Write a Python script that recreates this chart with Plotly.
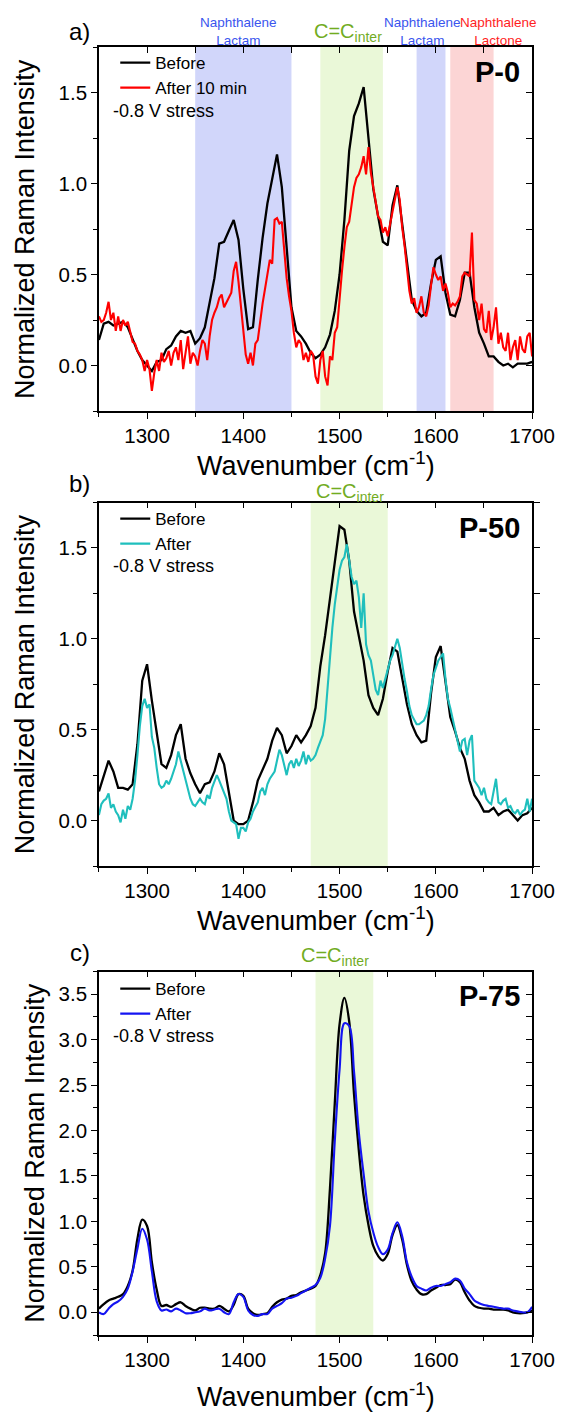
import numpy as np
import plotly.graph_objects as go

W, H = 582, 1414

# Raman shift grids (cm^-1)
wn_5 = np.arange(1250, 1700.001, 5.0)     # 91 points
wn_2p5 = np.arange(1250, 1700.001, 2.5)   # 181 points

# ---- P-0 ----
p0_before = [
    0.14, 0.23, 0.24, 0.22, 0.23, 0.24, 0.21, 0.14, 0.08, 0.03,
    0.00, -0.03, 0.02, 0.03, 0.09, 0.11, 0.16, 0.19, 0.18, 0.19,
    0.12, 0.15, 0.21, 0.34, 0.48, 0.67, 0.68, 0.74, 0.80, 0.69,
    0.42, 0.20, 0.21, 0.47, 0.70, 0.89, 1.03, 1.16, 0.98, 0.65,
    0.32, 0.19, 0.16, 0.12, 0.07, 0.04, 0.06, 0.10, 0.17, 0.30,
    0.50, 0.80, 1.18, 1.37, 1.44, 1.53, 1.24, 0.97, 0.82, 0.68,
    0.66, 0.88, 0.99, 0.78, 0.55, 0.36, 0.30, 0.27, 0.29, 0.45,
    0.58, 0.60, 0.40, 0.28, 0.27, 0.36, 0.51, 0.51, 0.32, 0.18,
    0.12, 0.05, 0.05, 0.02, 0.00, 0.01, -0.01, 0.01, 0.01, 0.01,
    0.02,
]
p0_after = [
    0.27, 0.24, 0.25, 0.29, 0.35, 0.25, 0.29, 0.19, 0.27, 0.19,
    0.25, 0.22, 0.24, 0.18, 0.13, 0.12, 0.08, 0.06, 0.03, -0.03,
    0.03, -0.02, -0.14, -0.04, 0.03, -0.03, 0.07, 0.02, 0.04, 0.08,
    0.00, 0.07, 0.10, 0.03, 0.14, -0.02, 0.08, 0.16, 0.01, 0.07,
    0.05, 0.00, 0.08, 0.14, 0.12, 0.03, 0.16, 0.25, 0.29, 0.32,
    0.37, 0.39, 0.32, 0.35, 0.37, 0.40, 0.52, 0.57, 0.46, 0.32,
    0.18, 0.06, 0.01, 0.07, 0.00, 0.12, 0.14, 0.25, 0.34, 0.42,
    0.50, 0.58, 0.56, 0.80, 0.81, 0.78, 0.79, 0.62, 0.48, 0.38,
    0.30, 0.18, 0.10, 0.14, 0.12, 0.03, 0.07, 0.02, 0.08, 0.06,
    -0.06, -0.10, 0.03, 0.08, -0.06, -0.11, 0.05, 0.03, 0.18, 0.21,
    0.38, 0.52, 0.65, 0.76, 0.79, 0.88, 0.98, 1.03, 1.05, 1.09,
    1.15, 1.05, 1.20, 1.06, 0.97, 0.90, 0.82, 0.80, 0.73, 0.76,
    0.71, 0.78, 0.86, 0.93, 0.98, 0.91, 0.76, 0.66, 0.52, 0.41,
    0.34, 0.37, 0.29, 0.32, 0.38, 0.29, 0.27, 0.33, 0.44, 0.54,
    0.50, 0.47, 0.49, 0.41, 0.45, 0.40, 0.32, 0.34, 0.33, 0.35,
    0.38, 0.49, 0.51, 0.50, 0.49, 0.73, 0.36, 0.34, 0.25, 0.34,
    0.20, 0.18, 0.30, 0.14, 0.21, 0.32, 0.12, 0.18, 0.10, 0.08,
    0.18, 0.03, 0.10, 0.14, 0.03, 0.16, 0.09, 0.07, 0.16, 0.18,
    0.05,
]

# ---- P-50 ----
p50_before = [
    0.16, 0.25, 0.33, 0.27, 0.18, 0.18, 0.17, 0.20, 0.42, 0.77,
    0.86, 0.66, 0.47, 0.31, 0.29, 0.36, 0.47, 0.53, 0.34, 0.26,
    0.20, 0.15, 0.20, 0.21, 0.27, 0.37, 0.31, 0.15, 0.00, -0.02,
    -0.02, 0.00, 0.10, 0.22, 0.28, 0.34, 0.44, 0.51, 0.47, 0.37,
    0.41, 0.47, 0.43, 0.47, 0.52, 0.62, 0.85, 1.02, 1.22, 1.43,
    1.62, 1.60, 1.43, 1.15, 1.01, 0.88, 0.69, 0.62, 0.58, 0.67,
    0.82, 0.95, 0.93, 0.79, 0.64, 0.53, 0.47, 0.43, 0.44, 0.70,
    0.90, 0.96, 0.77, 0.57, 0.49, 0.40, 0.34, 0.22, 0.14, 0.10,
    0.05, 0.05, 0.07, 0.03, 0.05, 0.06, 0.03, 0.00, 0.03, 0.04,
    0.07,
]
p50_after = [
    0.03, 0.09, 0.11, 0.12, 0.15, 0.07, 0.09, 0.05, 0.03, -0.01,
    0.06, 0.01, 0.08, 0.06, 0.12, 0.22, 0.36, 0.52, 0.63, 0.67,
    0.62, 0.64, 0.46, 0.40, 0.29, 0.20, 0.18, 0.19, 0.22, 0.20,
    0.23, 0.27, 0.31, 0.38, 0.33, 0.27, 0.23, 0.18, 0.12, 0.09,
    0.08, 0.10, 0.12, 0.10, 0.09, 0.14, 0.12, 0.18, 0.22, 0.25,
    0.22, 0.19, 0.15, 0.12, 0.05, 0.00, -0.01, -0.02, -0.10, -0.04,
    -0.04, -0.06, -0.01, 0.01, 0.05, 0.08, 0.10, 0.16, 0.18, 0.14,
    0.20, 0.23, 0.25, 0.27, 0.33, 0.39, 0.36, 0.31, 0.25, 0.31,
    0.33, 0.29, 0.34, 0.30, 0.33, 0.38, 0.31, 0.36, 0.33, 0.34,
    0.36, 0.40, 0.43, 0.47, 0.56, 0.74, 0.90, 1.06, 1.19, 1.29,
    1.38, 1.43, 1.45, 1.52, 1.43, 1.34, 1.30, 1.32, 1.23, 1.06,
    1.25, 0.97, 0.91, 0.88, 0.80, 0.72, 0.69, 0.77, 0.73, 0.78,
    0.83, 0.88, 0.91, 0.95, 1.00, 0.95, 0.86, 0.78, 0.71, 0.63,
    0.58, 0.55, 0.53, 0.53, 0.54, 0.55, 0.58, 0.63, 0.72, 0.80,
    0.84, 0.88, 0.90, 0.92, 0.78, 0.67, 0.62, 0.56, 0.50, 0.45,
    0.38, 0.44, 0.45, 0.36, 0.44, 0.47, 0.22, 0.20, 0.18, 0.14,
    0.18, 0.12, 0.10, 0.09, 0.16, 0.23, 0.10, 0.09, 0.11, 0.12,
    0.07, 0.08, 0.05, 0.04, 0.06, 0.03, 0.05, 0.06, 0.12, 0.05,
    0.12,
]

# ---- P-75 ----
p75_before = [
    0.04, 0.09, 0.13, 0.15, 0.17, 0.20, 0.29, 0.46, 0.81, 1.02,
    0.95, 0.55, 0.25, 0.07, 0.08, 0.06, 0.09, 0.11, 0.07, 0.04,
    0.02, 0.05, 0.05, 0.04, 0.04, 0.07, 0.04, 0.01, 0.08, 0.20,
    0.18, 0.04, -0.01, -0.03, -0.02, -0.01, 0.06, 0.11, 0.14, 0.15,
    0.18, 0.19, 0.22, 0.24, 0.26, 0.29, 0.41, 0.65, 1.36, 2.30,
    3.17, 3.46, 3.20, 2.40, 1.78, 1.28, 0.96, 0.73, 0.62, 0.57,
    0.64, 0.85, 0.96, 0.80, 0.52, 0.34, 0.25, 0.20, 0.20, 0.24,
    0.27, 0.30, 0.30, 0.31, 0.36, 0.33, 0.22, 0.13, 0.07, 0.05,
    0.04, 0.04, 0.03, 0.03, 0.03, 0.02, 0.00, -0.01, -0.01, 0.00,
    0.02,
]
p75_after = [
    0.00, -0.02, 0.04, 0.09, 0.12, 0.17, 0.26, 0.45, 0.70, 0.92,
    0.80, 0.45, 0.12, 0.02, 0.03, 0.01, 0.04, 0.02, -0.01, -0.01,
    0.00, 0.01, 0.04, 0.02, 0.03, 0.04, 0.00, -0.02, 0.11, 0.20,
    0.17, 0.02, -0.03, -0.04, -0.02, -0.02, 0.04, 0.07, 0.10, 0.15,
    0.16, 0.18, 0.21, 0.24, 0.27, 0.30, 0.38, 0.59, 0.95, 1.88,
    2.67, 3.18, 3.15, 2.65, 1.98, 1.52, 1.11, 0.88, 0.72, 0.64,
    0.69, 0.87, 0.99, 0.84, 0.55, 0.39, 0.29, 0.26, 0.24, 0.27,
    0.29, 0.29, 0.31, 0.33, 0.37, 0.35, 0.26, 0.20, 0.13, 0.10,
    0.08, 0.07, 0.06, 0.05, 0.04, 0.04, 0.02, 0.01, 0.00, 0.00,
    0.06,
]

for arr, grid in [(p0_before, wn_5), (p0_after, wn_2p5), (p50_before, wn_5),
                  (p50_after, wn_2p5), (p75_before, wn_5), (p75_after, wn_5)]:
    if len(arr) != len(grid):
        raise ValueError(f"length mismatch: {len(arr)} vs {len(grid)}")

FONT = "Liberation Sans, Arial, sans-serif"
BAND_BLUE = "#D1D6FA"
BAND_GREEN = "#EAF8D8"
BAND_RED = "#FCD5D5"
TXT_BLUE = "#3A55EE"
TXT_GREEN = "#72AC1F"
TXT_RED = "#FF1E1E"
X_TITLE = "Wavenumber (cm<sup>-1</sup>)"
Y_TITLE = "Normalized Raman Intensity"


def px_x(p):
    return p / W


def px_y(p):
    return 1 - p / H


X_DOMAIN = [px_x(103), px_x(554)]

panels = [
    dict(tag="P-0", letter="a)", top=47, bottom=411, yrange=[-0.25, 1.75],
         before=p0_before, bx=wn_5, after=p0_after, ax=wn_2p5,
         after_name="After 10 min", after_color="#FF0000", shape="linear",
         right_ticks="inside", xtitle_y=464, ytitle_x=26,
         bands=[(1350, 1450, BAND_BLUE), (1480, 1545, BAND_GREEN),
                (1580, 1610, BAND_BLUE), (1615, 1660, BAND_RED)],
         labels=[(1395, 31, "Naphthalene<br>Lactam", TXT_BLUE, 13.5),
                 (1586, 31, "Naphthalene<br>Lactam", TXT_BLUE, 13.5),
                 (1665, 31, "Naphthalene<br>Lactone", TXT_RED, 13.5),
                 (1508.5, 33, "C=C<sub>inter</sub>", TXT_GREEN, 20)],
         letter_y=31, tag_y=72, legend_y=63, stress_y=111),
    dict(tag="P-50", letter="b)", top=502.5, bottom=866, yrange=[-0.25, 1.75],
         before=p50_before, bx=wn_5, after=p50_after, ax=wn_2p5,
         after_name="After", after_color="#1FBFBD", shape="linear",
         right_ticks="outside", xtitle_y=919, ytitle_x=26,
         bands=[(1470, 1550, BAND_GREEN)],
         labels=[(1510.5, 492, "C=C<sub>inter</sub>", TXT_GREEN, 20)],
         letter_y=483, tag_y=528, legend_y=519, stress_y=566),
    dict(tag="P-75", letter="c)", top=971.5, bottom=1335, yrange=[-0.25, 3.75],
         before=p75_before, bx=wn_5, after=p75_after, ax=wn_5,
         after_name="After", after_color="#1414F2", shape="spline",
         right_ticks="inside", xtitle_y=1395, ytitle_x=37,
         bands=[(1475, 1535, BAND_GREEN)],
         labels=[(1495.5, 956, "C=C<sub>inter</sub>", TXT_GREEN, 20)],
         letter_y=952, tag_y=996, legend_y=989, stress_y=1036),
]

fig = go.Figure()
layout = {}
annotations = []
shapes = []

for k, p in enumerate(panels, start=1):
    s = "" if k == 1 else str(k)
    xname, yname = f"x{s}", f"y{s}"
    xo, yo = f"x{k + 3}", f"y{k + 3}"   # top / right frame axes
    leg = "legend" if k == 1 else f"legend{k}"
    ydom = [px_y(p["bottom"]), px_y(p["top"])]

    fig.add_trace(go.Scatter(
        x=p["bx"], y=p["before"], mode="lines", name="Before",
        line=dict(color="#000000", width=2.3, shape=p["shape"]),
        xaxis=xname, yaxis=yname, legend=leg))
    # the second spectrum uses the top/right frame axes (same ranges)
    fig.add_trace(go.Scatter(
        x=p["ax"], y=p["after"], mode="lines", name=p["after_name"],
        line=dict(color=p["after_color"], width=2.1, shape=p["shape"]),
        xaxis=xo, yaxis=yo, legend=leg))

    common_line = dict(showline=True, linecolor="black", linewidth=1.5,
                       showgrid=False, zeroline=False, tickcolor="black",
                       tickwidth=1.4)
    layout[f"xaxis{s}"] = dict(
        domain=X_DOMAIN, range=[1250, 1700], anchor=yname,
        ticks="outside", ticklen=6, tick0=1300, dtick=100,
        minor=dict(ticks="outside", ticklen=4, tick0=1250, dtick=50,
                   tickcolor="black", tickwidth=1.4, showgrid=False),
        tickfont=dict(family=FONT, size=20.5, color="black"),
        **common_line)
    layout[f"yaxis{s}"] = dict(
        domain=ydom, range=p["yrange"], anchor=xname,
        ticks="outside", ticklen=6, tick0=0, dtick=0.5, tickformat=".1f",
        minor=dict(ticks="outside", ticklen=4, tick0=0, dtick=0.25,
                   tickcolor="black", tickwidth=1.4, showgrid=False),
        tickfont=dict(family=FONT, size=20.5, color="black"),
        **common_line)
    layout[f"xaxis{k + 3}"] = dict(
        overlaying=xname, anchor=yo, side="top", range=[1250, 1700],
        domain=X_DOMAIN,
        ticks="inside", ticklen=6, tick0=1250, dtick=50,
        showticklabels=False, **common_line)
    layout[f"yaxis{k + 3}"] = dict(
        overlaying=yname, anchor=xo, side="right", range=p["yrange"],
        domain=ydom,
        ticks=p["right_ticks"], ticklen=6, tick0=0, dtick=0.25,
        showticklabels=False, **common_line)

    layout[leg] = dict(
        x=px_x(120), y=px_y(p["legend_y"] - 18), xanchor="left", yanchor="top",
        bgcolor="rgba(0,0,0,0)", borderwidth=0, tracegroupgap=0,
        font=dict(family=FONT, size=17, color="black"), itemwidth=30)

    for x0, x1, col in p["bands"]:
        shapes.append(dict(type="rect", xref=xname, yref=f"{yname} domain",
                           x0=x0, x1=x1, y0=0, y1=1, fillcolor=col,
                           line=dict(width=0), layer="below"))

    for lx, ly, text, col, size in p["labels"]:
        annotations.append(dict(
            x=lx, xref=xname, y=px_y(ly), yref="paper", text=text,
            showarrow=False, xanchor="center", yanchor="middle",
            font=dict(family=FONT, size=size, color=col)))

    # axis titles
    annotations.append(dict(
        x=0.5, xref=f"{xname} domain", y=px_y(p["xtitle_y"]), yref="paper",
        text=X_TITLE, showarrow=False, xanchor="center", yanchor="middle",
        font=dict(family=FONT, size=27, color="black")))
    annotations.append(dict(
        x=px_x(p["ytitle_x"]), xref="paper", y=0.5, yref=f"{yname} domain",
        text=Y_TITLE, textangle=-90, showarrow=False,
        xanchor="center", yanchor="middle",
        font=dict(family=FONT, size=27, color="black")))

    annotations.append(dict(
        x=px_x(83), y=px_y(p["letter_y"]), xref="paper", yref="paper",
        text=p["letter"], showarrow=False, xanchor="center", yanchor="middle",
        font=dict(family=FONT, size=24, color="black")))
    annotations.append(dict(
        x=px_x(543), y=px_y(p["tag_y"]), xref="paper", yref="paper",
        text=f"<b>{p['tag']}</b>", showarrow=False, xanchor="right",
        yanchor="middle", font=dict(family=FONT, size=29, color="black")))
    annotations.append(dict(
        x=px_x(116), y=px_y(p["stress_y"]), xref="paper", yref="paper",
        text="-0.8 V stress", showarrow=False, xanchor="left",
        yanchor="middle", font=dict(family=FONT, size=18, color="black")))

fig.update_layout(
    width=W, height=H,
    margin=dict(l=0, r=0, t=0, b=0),
    paper_bgcolor="white", plot_bgcolor="rgba(0,0,0,0)",
    showlegend=True,
    annotations=annotations, shapes=shapes,
    **layout)

fig.write_html("out.html")
